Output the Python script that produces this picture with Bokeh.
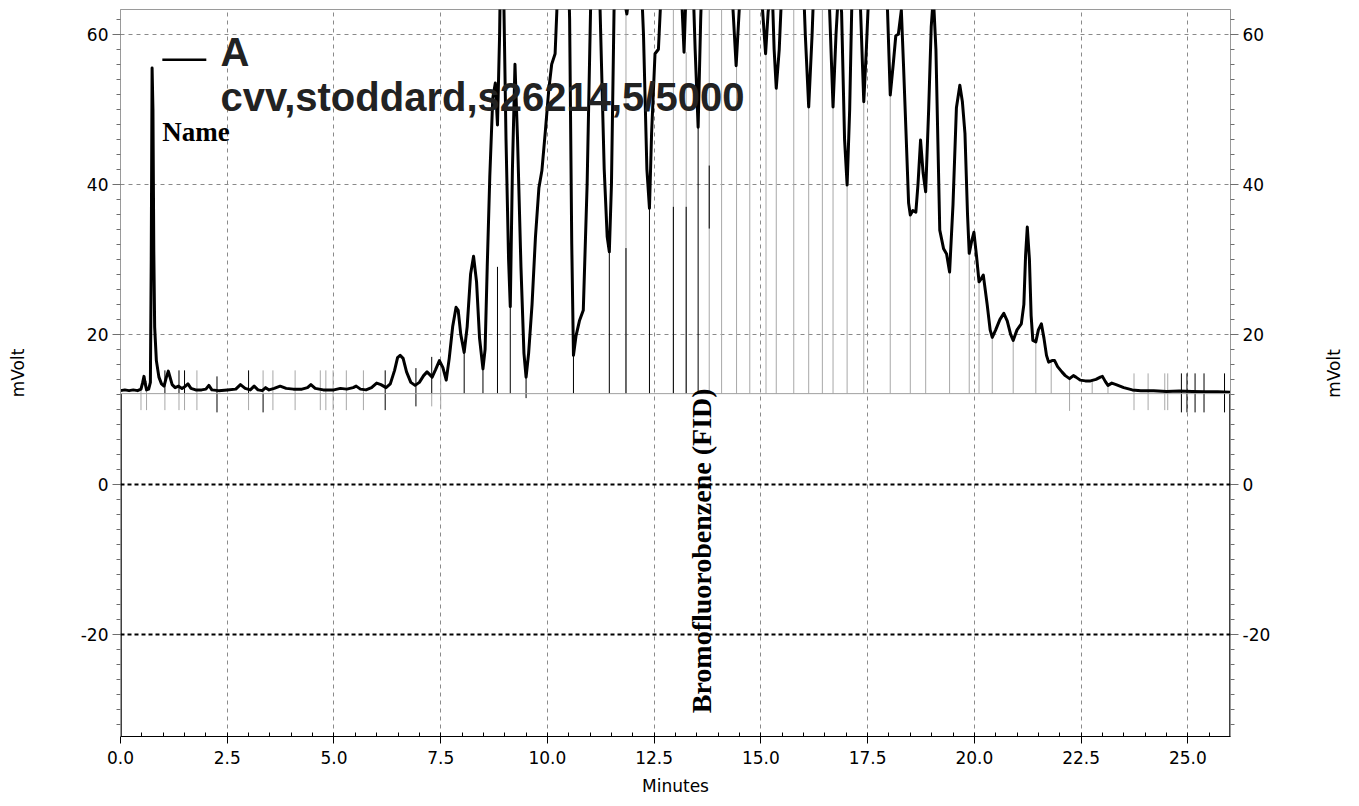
from bokeh.plotting import figure
from bokeh.models import (Range1d, LinearAxis, SingleIntervalTicker, FixedTicker,
                          NumeralTickFormatter, Span, Label)
from bokeh.embed import file_html
from bokeh.resources import INLINE

# ---- chromatogram trace: (minutes, mVolt) ----
trace_points = [
    (0.00, 12.5), (0.10, 12.6), (0.20, 12.5), (0.30, 12.6), (0.40, 12.5), (0.48, 12.7),
    (0.52, 13.6), (0.55, 14.4), (0.58, 13.4), (0.61, 12.6), (0.66, 12.7),
    (0.70, 13.6), (0.72, 30.0), (0.74, 55.5), (0.76, 50.0), (0.78, 31.0), (0.80, 21.0),
    (0.84, 16.5), (0.90, 14.3), (0.96, 13.4), (1.02, 13.1),
    (1.07, 14.2), (1.12, 15.1), (1.16, 14.3), (1.21, 13.3), (1.28, 12.9), (1.36, 13.1),
    (1.44, 12.8), (1.52, 13.1), (1.58, 13.4), (1.65, 12.8), (1.76, 12.6), (1.90, 12.6),
    (2.00, 12.7), (2.07, 13.2), (2.14, 12.6), (2.30, 12.5), (2.50, 12.6), (2.70, 12.7),
    (2.81, 13.3), (2.92, 12.8), (3.04, 12.6), (3.13, 13.1), (3.22, 12.6), (3.32, 12.5),
    (3.40, 12.9), (3.48, 12.6), (3.60, 12.8), (3.74, 13.1), (3.88, 12.8), (4.05, 12.7),
    (4.25, 12.7), (4.38, 12.9), (4.46, 13.3), (4.56, 12.8), (4.75, 12.6), (5.00, 12.6),
    (5.15, 12.8), (5.30, 12.7), (5.45, 12.9), (5.52, 13.1), (5.62, 12.7), (5.75, 12.6),
    (5.88, 12.9), (6.00, 13.5), (6.10, 13.3), (6.22, 12.9), (6.32, 13.4), (6.42, 15.2),
    (6.49, 16.9), (6.55, 17.2), (6.62, 16.8), (6.70, 15.0), (6.80, 13.6), (6.90, 13.2),
    (7.00, 13.6), (7.10, 14.5), (7.18, 15.0), (7.25, 14.6), (7.30, 14.3), (7.38, 15.3),
    (7.47, 16.5), (7.55, 15.6), (7.63, 13.9), (7.70, 16.8), (7.78, 21.0), (7.86, 23.6),
    (7.91, 23.2), (7.97, 20.0), (8.05, 17.6), (8.12, 21.0), (8.20, 28.0), (8.27, 30.4),
    (8.34, 27.0), (8.41, 19.5), (8.49, 15.4), (8.54, 18.0), (8.59, 29.0), (8.65, 41.0),
    (8.72, 51.5), (8.78, 53.5), (8.83, 47.9), (8.88, 60.0), (8.93, 82.0), (8.98, 64.0),
    (9.03, 46.0), (9.09, 30.0), (9.13, 23.7), (9.18, 42.0), (9.24, 56.0), (9.30, 46.0),
    (9.38, 29.0), (9.45, 17.5), (9.50, 14.3), (9.56, 17.5), (9.64, 24.0), (9.72, 33.0),
    (9.80, 39.5), (9.87, 41.8), (9.95, 47.0), (10.03, 52.5), (10.10, 56.0), (10.18, 57.4),
    (10.22, 63.0), (10.30, 78.0), (10.45, 78.0), (10.52, 62.0), (10.57, 32.0), (10.61, 17.2),
    (10.67, 19.8), (10.75, 21.8), (10.84, 23.2), (10.93, 40.0), (11.02, 66.0), (11.12, 82.0),
    (11.23, 64.0), (11.33, 42.0), (11.40, 33.0), (11.45, 31.0), (11.50, 40.0), (11.56, 63.0),
    (11.65, 80.0), (11.76, 72.0), (11.82, 64.0), (11.86, 62.7), (11.91, 65.0), (11.98, 78.0),
    (12.12, 78.0), (12.25, 60.0), (12.33, 42.0), (12.39, 36.8), (12.44, 46.8), (12.52, 57.4),
    (12.60, 58.0), (12.65, 64.0), (12.80, 85.0), (13.00, 82.0), (13.12, 68.0), (13.20, 57.6),
    (13.26, 68.0), (13.36, 76.0), (13.46, 58.0), (13.53, 47.6), (13.59, 62.0), (13.70, 82.0),
    (13.95, 92.0), (14.20, 82.0), (14.34, 64.0), (14.42, 55.8), (14.50, 64.0), (14.65, 85.0),
    (14.90, 82.0), (15.03, 64.0), (15.11, 57.4), (15.17, 63.0), (15.26, 67.0), (15.31, 58.0),
    (15.36, 52.8), (15.43, 58.0), (15.52, 70.0), (15.75, 92.0), (15.95, 74.0), (16.04, 60.0),
    (16.12, 50.3), (16.20, 60.0), (16.25, 68.0), (16.42, 88.0), (16.58, 68.0), (16.69, 50.3),
    (16.76, 60.0), (16.82, 66.0), (16.89, 63.0), (16.96, 46.0), (17.02, 39.9), (17.08, 50.0),
    (17.13, 64.0), (17.22, 72.0), (17.33, 64.0), (17.41, 51.0), (17.47, 58.0), (17.53, 66.0),
    (17.75, 82.0), (17.95, 66.0), (18.03, 51.9), (18.10, 56.0), (18.16, 59.8), (18.22, 60.0),
    (18.29, 63.2), (18.34, 56.0), (18.40, 46.8), (18.46, 37.5), (18.50, 35.9), (18.56, 36.5),
    (18.63, 36.3), (18.68, 40.0), (18.74, 45.9), (18.80, 41.5), (18.86, 39.0), (18.93, 50.0),
    (18.99, 61.0), (19.04, 65.0), (19.10, 58.0), (19.19, 33.9), (19.28, 31.4), (19.35, 30.7),
    (19.42, 28.3), (19.50, 37.3), (19.58, 50.2), (19.66, 53.2), (19.72, 51.0), (19.78, 46.8),
    (19.84, 36.0), (19.88, 30.8), (19.94, 32.5), (19.99, 33.6), (20.05, 30.5), (20.11, 27.0),
    (20.17, 27.5), (20.21, 27.9), (20.30, 24.0), (20.37, 20.6), (20.42, 19.6), (20.50, 20.6),
    (20.60, 22.0), (20.69, 22.8), (20.77, 21.8), (20.85, 20.0), (20.91, 19.2), (21.00, 20.6),
    (21.10, 21.4), (21.16, 24.0), (21.20, 30.5), (21.24, 34.3), (21.29, 30.0), (21.33, 22.5),
    (21.37, 19.2), (21.44, 19.0), (21.50, 20.6), (21.57, 21.4), (21.63, 19.5), (21.69, 17.2),
    (21.74, 16.3), (21.82, 16.5), (21.88, 16.5), (21.95, 15.7), (22.05, 15.0), (22.13, 14.5),
    (22.23, 14.1), (22.32, 14.5), (22.38, 14.3), (22.48, 13.9), (22.60, 13.8), (22.72, 13.8),
    (22.85, 14.0), (22.95, 14.3), (23.00, 14.4), (23.07, 13.7), (23.13, 13.2), (23.22, 13.5),
    (23.32, 13.3), (23.50, 12.9), (23.70, 12.6), (23.90, 12.5), (24.20, 12.5), (24.50, 12.4),
    (24.80, 12.45), (25.10, 12.4), (25.40, 12.35), (25.70, 12.35), (26.00, 12.3),
]

# integration baseline level (mVolt)
baseline_level = 12.1

# peak boundary marks: (minutes, low mV, high mV)
gray_marks = [
    (0.48, 9.9, 12.8), (0.61, 9.9, 13.8), (1.04, 9.9, 12.1), (1.37, 9.9, 12.1),
    (1.50, 9.9, 12.1), (1.79, 9.9, 15.2), (3.00, 9.9, 12.1), (3.34, 12.1, 15.2),
    (3.57, 9.9, 15.2), (4.09, 9.9, 15.2), (4.68, 9.9, 15.2), (4.81, 9.9, 15.2),
    (4.98, 9.9, 15.2), (5.29, 9.9, 15.2), (5.69, 9.9, 15.2), (7.29, 10.4, 12.1),
    (7.50, 10.0, 16.2), (11.84, 12.1, 62.7), (12.95, 12.1, 70.0), (13.25, 12.1, 57.6),
    (13.79, 12.1, 70.0), (14.08, 12.1, 70.0), (14.43, 12.1, 55.8), (14.74, 12.1, 70.0),
    (15.12, 12.1, 57.4), (15.36, 12.1, 52.8), (15.77, 12.1, 70.0), (16.12, 12.1, 50.3),
    (16.44, 12.1, 70.0), (16.69, 12.1, 50.3), (17.02, 12.1, 39.9), (17.41, 12.1, 51.0),
    (18.03, 12.1, 51.9), (18.50, 12.1, 35.9), (18.86, 12.1, 39.0), (19.42, 12.1, 28.3),
    (19.88, 12.1, 30.8), (20.11, 12.1, 27.0), (20.42, 12.1, 19.6), (20.91, 12.1, 19.2),
    (21.44, 12.1, 19.0), (21.80, 12.1, 16.4), (22.23, 9.8, 14.1), (22.76, 12.1, 13.8),
    (23.13, 12.1, 13.2), (23.74, 9.9, 14.8), (24.07, 9.9, 14.8), (24.46, 9.9, 14.8),
    (24.53, 9.9, 14.8),
]
black_marks = [
    (0.00, 12.1, 20.7), (1.04, 12.1, 15.2), (1.37, 12.1, 15.2), (1.50, 12.1, 15.2),
    (2.26, 9.6, 14.4), (3.00, 12.1, 15.2), (3.34, 9.6, 12.1), (6.20, 9.9, 15.2),
    (6.92, 10.4, 15.5), (7.29, 12.1, 17.0), (8.05, 12.1, 17.6), (8.49, 12.1, 15.4),
    (8.83, 12.1, 29.0), (9.13, 12.1, 23.7), (9.50, 11.5, 14.3), (10.61, 12.1, 17.2),
    (11.45, 12.1, 31.0), (11.84, 12.1, 31.5), (12.39, 12.1, 36.8), (12.95, 12.1, 37.0),
    (13.25, 12.1, 37.0), (13.53, 12.1, 47.6), (13.79, 34.1, 42.5), (24.85, 9.6, 14.8),
    (24.98, 9.6, 14.8), (25.17, 9.6, 14.8), (25.38, 9.6, 14.8), (25.86, 9.6, 14.8),
    (26.00, 12.1, 18.0),
]

# dotted reference levels (mVolt)
ref_levels = [0, -20]

# axis extents and tick spacing
x_start, x_end = 0.0, 26.0
y_start, y_end = -33.6, 63.3
x_tick_step, y_tick_step = 2.5, 20
grid_y_levels = [20, 40, 60]

# texts
trace_name = "A"
sample_name = "cvv,stoddard,s26214,5/5000"
name_header = "Name"
peak_name = "Bromofluorobenzene (FID)"
peak_label_pos = (13.62, -30.5)

trace_time = [t for t, _ in trace_points]
trace_mv = [v for _, v in trace_points]

AXIS_FONT = "DejaVu Sans"
GRAY = "#9a9a9a"

p = figure(width=1359, height=806, output_backend="svg", toolbar_location=None,
           x_range=Range1d(x_start, x_end), y_range=Range1d(y_start, y_end),
           min_border_left=120, min_border_right=129, min_border_top=9,
           min_border_bottom=70)
p.background_fill_color = "white"
p.border_fill_color = "white"
p.outline_line_color = GRAY

# bottom axis
xa = p.xaxis[0]
xa.ticker = SingleIntervalTicker(interval=x_tick_step, num_minor_ticks=5)
xa.formatter = NumeralTickFormatter(format="0.0")
xa.axis_label = "Minutes"
xa.axis_line_color = "black"
xa.major_tick_line_color = "black"
xa.minor_tick_line_color = "black"
xa.major_tick_in, xa.major_tick_out = 0, 7
xa.minor_tick_in, xa.minor_tick_out = 4, 0
xa.major_label_standoff = 7
xa.axis_label_standoff = 9
xa.major_label_text_font = AXIS_FONT
xa.major_label_text_font_size = "17px"
xa.major_label_text_color = "black"
xa.axis_label_text_font = AXIS_FONT
xa.axis_label_text_font_size = "17px"
xa.axis_label_text_font_style = "normal"
xa.axis_label_text_color = "black"


def style_y(ax):
    ax.ticker = SingleIntervalTicker(interval=y_tick_step, num_minor_ticks=10)
    ax.formatter = NumeralTickFormatter(format="0")
    ax.axis_line_color = GRAY
    ax.major_tick_line_color = "#6e6e6e"
    ax.minor_tick_line_color = "#6e6e6e"
    ax.major_tick_in, ax.major_tick_out = 0, 8
    ax.minor_tick_in, ax.minor_tick_out = 0, 4
    ax.major_label_standoff = 4
    ax.major_label_text_font = AXIS_FONT
    ax.major_label_text_font_size = "17px"
    ax.major_label_text_color = "black"


ya = p.yaxis[0]
style_y(ya)
ya.axis_label = "mVolt"
ya.axis_label_standoff = 50
ya.axis_label_text_font = AXIS_FONT
ya.axis_label_text_font_size = "17px"
ya.axis_label_text_font_style = "normal"
ya.axis_label_text_color = "black"

ra = LinearAxis()
style_y(ra)
p.add_layout(ra, "right")

# right-hand title, reading upward like the left one, in its own side panel
p.add_layout(Label(x=60, y=363, x_units="screen", y_units="screen", text="mVolt",
                   text_font=AXIS_FONT, text_font_size="17px", text_color="black",
                   angle=90, angle_units="deg", text_align="center",
                   text_baseline="middle"), "right")

# grid
p.xgrid.grid_line_color = "#8a8a8a"
p.xgrid.grid_line_dash = "4 4"
p.xgrid.grid_line_width = 1
p.ygrid.ticker = FixedTicker(ticks=grid_y_levels)
p.ygrid.grid_line_color = "#8a8a8a"
p.ygrid.grid_line_dash = "4 4"
p.ygrid.grid_line_width = 1

for lvl in ref_levels:
    p.add_layout(Span(location=lvl, dimension="width", line_color="black",
                      line_width=2, line_dash="4 3"))

# integration baseline
p.add_layout(Span(location=baseline_level, dimension="width",
                  line_color="#a0a0a0", line_width=1))

# lower parts of the side axes are drawn black
p.segment(x0=[x_start, x_end], y0=[y_start, y_start],
          x1=[x_start, x_end], y1=[baseline_level, baseline_level],
          line_color="black", line_width=2.5)

# peak marks
p.segment(x0=[m[0] for m in gray_marks], y0=[m[1] for m in gray_marks],
          x1=[m[0] for m in gray_marks], y1=[m[2] for m in gray_marks],
          line_color="#a8a8a8", line_width=1)
p.segment(x0=[m[0] for m in black_marks], y0=[m[1] for m in black_marks],
          x1=[m[0] for m in black_marks], y1=[m[2] for m in black_marks],
          line_color="black", line_width=1)

# the signal
p.line(trace_time, trace_mv, line_color="black", line_width=3.0, line_join="round")

# legend sample line and titles
p.line([0.98, 2.01], [56.6, 56.6], line_color="black", line_width=2.5)
p.add_layout(Label(x=2.34, y=57.6, text=trace_name, text_font="Liberation Sans",
                   text_font_style="bold", text_font_size="40px", text_color="#222222",
                   text_baseline="alphabetic", text_align="left"))
p.add_layout(Label(x=2.34, y=51.6, text=sample_name, text_font="Liberation Sans",
                   text_font_style="bold", text_font_size="40px", text_color="#222222",
                   text_baseline="alphabetic", text_align="left"))
p.add_layout(Label(x=0.98, y=46.95, text=name_header, text_font="Liberation Serif",
                   text_font_style="bold", text_font_size="27px", text_color="black",
                   text_baseline="alphabetic", text_align="left"))
p.add_layout(Label(x=peak_label_pos[0], y=peak_label_pos[1], text=peak_name,
                   text_font="Liberation Serif", text_font_style="bold",
                   text_font_size="28px", text_color="black", angle=90,
                   angle_units="deg", text_baseline="alphabetic", text_align="left"))

open("out.html", "w").write(file_html(p, INLINE))
